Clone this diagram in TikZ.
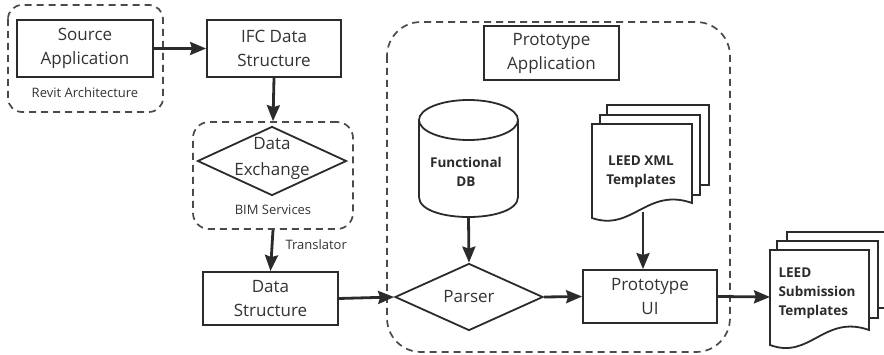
\documentclass[tikz,border=0pt]{standalone}
\usepackage{fontspec}
\setmainfont{Open Sans}
\usetikzlibrary{arrows.meta,shapes.geometric}
\definecolor{ink}{HTML}{2B2B2B}
\definecolor{txt}{HTML}{333333}
\definecolor{dash}{HTML}{4A4A4A}
\begin{document}
\begin{tikzpicture}[x=1pt,y=-1pt,
  box/.style={draw=ink,line width=1.8pt,fill=white,minimum width=#1,inner sep=0pt,align=center,font=\fontsize{17}{24}\selectfont,text=txt},
  grp/.style={draw=dash,line width=1.7pt,dash pattern=on 7pt off 5pt},
  arr/.style={draw=ink,line width=2.8pt,-{Stealth[length=16pt,width=13pt,inset=2pt]}},
  dia/.style={draw=ink,line width=1.8pt,diamond,inner sep=0pt},
  lab/.style={font=\fontsize{13}{15}\selectfont,text=txt},
  btxt/.style={font=\bfseries\fontsize{13.5}{19}\selectfont,text=ink},
  pagefill/.style={draw=ink,line width=1.8pt,fill=white}]
\useasboundingbox (0,0) rectangle (884,355);

% Source application group
\draw[grp,rounded corners=14pt] (8,5) rectangle (163,112);
\node[box=136pt,minimum height=57pt] (src) at (85,48.5) {Source\\Application};
\node[lab] (revit) at (85,93) {Revit Architecture};

% IFC
\node[box=134pt,minimum height=57pt] (ifc) at (274,48.5) {IFC Data\\Structure};

% BIM services group
\node[grp,rounded corners=16pt,minimum width=160pt,minimum height=107pt,inner sep=0pt] (bim) at (273,175.5) {};
\node[dia,minimum width=149pt,minimum height=69pt] (dx) at (272,161) {};
\node[align=center,font=\fontsize{17}{26}\selectfont,text=txt] (dxt) at (272,158) {Data\\Exchange};
\node[lab] (bims) at (273,210) {BIM Services};

% Data structure
\node[box=135pt,minimum height=53pt] (ds) at (270.5,298.5) {Data\\Structure};
\node[lab,anchor=west] (trans) at (282,245) {Translator};

% Prototype application group
\draw[grp,rounded corners=34pt] (387,22) rectangle (730,352);
\node[box=135pt,minimum height=54pt] (pa) at (551.5,53) {Prototype\\Application};

% Functional DB cylinder
\draw[ink,line width=1.8pt,fill=white] (419,120) -- (419,197) .. controls (419,223.7) and (518,223.7) .. (518,197) -- (518,120);
\draw[ink,line width=1.8pt,fill=white] (468.5,120) ellipse [x radius=49.5,y radius=20];
\node[inner sep=0pt,minimum width=99pt,minimum height=117pt] (db) at (468.5,158.5) {};
\node[btxt,align=center] (dbt) at (466,172) {Functional\\DB};

% Parser
\node[dia,minimum width=148pt,minimum height=67pt,font=\fontsize{17}{21}\selectfont,text=txt] (parser) at (469,297) {Parser};

% LEED XML templates stack
\draw[pagefill] (607,105) rectangle (709,185);
\draw[pagefill] (600,115) rectangle (700,195);
\draw[pagefill] (592,124) -- (692,124) -- (692,203) .. controls (647,187) and (632,232) .. (592,218) -- cycle;
\node[btxt,align=center] (xml) at (641,172) {LEED XML\\Templates};
\coordinate (xmlb) at (643,212);

% Prototype UI
\node[box=134pt,minimum height=53pt] (ui) at (650,296.5) {Prototype\\UI};

% LEED submission stack
\draw[pagefill] (787,232) rectangle (892,308);
\draw[pagefill] (777,241) rectangle (878,318);
\draw[pagefill] (770,250) -- (869,250) -- (869,330) .. controls (824,314) and (810,360) .. (770,345) -- cycle;
\node[btxt,align=left,anchor=west] (sub) at (775,293) {LEED\\Submission\\Templates};
\coordinate (subw) at (770,297);

% connectors
\draw[arr] (src.east) -- (ifc.west);
\draw[arr] (ifc.south) -- (bim.north);
\draw[arr] (bim.south) -- (ds.north);
\draw[arr] (ds.east) -- (parser.west);
\draw[arr] (db.south) -- (parser.north);
\draw[arr] (parser.east) -- (ui.west);
\draw[arr] (xmlb) -- (xmlb |- ui.north);
\draw[arr] (ui.east) -- (subw);
\end{tikzpicture}
\end{document}
